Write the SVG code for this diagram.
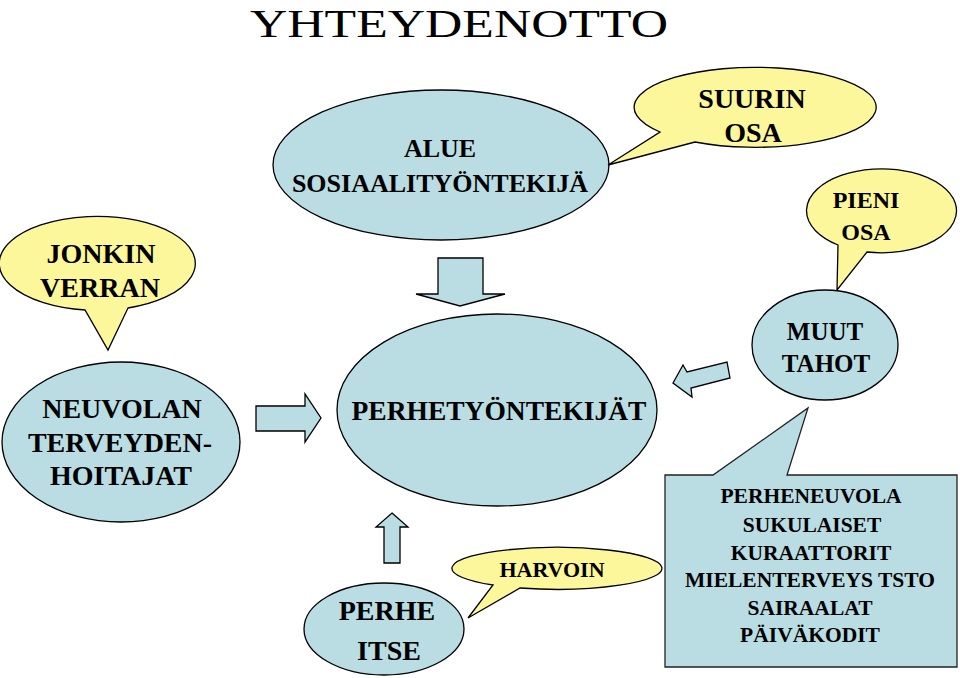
<svg xmlns="http://www.w3.org/2000/svg" width="960" height="678" viewBox="0 0 960 678">
<style>
.b{fill:#b9dde3;stroke:#000;stroke-width:1.3}
.y{fill:#fdf79c;stroke:#000;stroke-width:1.3}
</style>
<rect width="960" height="678" fill="#fff"/>
<g font-family="Liberation Serif" font-weight="bold" text-anchor="middle" fill="#000">
<text x="459" y="37" font-size="40" font-weight="normal" textLength="418" lengthAdjust="spacingAndGlyphs">YHTEYDENOTTO</text>

<g id="alue">
<ellipse class="b" cx="441" cy="165" rx="168" ry="75"/>
<text x="440" y="157" font-size="26">ALUE</text>
<text x="440" y="192" font-size="26">SOSIAALITYÖNTEKIJÄ</text>
</g>

<g id="suurin">
<path class="y" d="M660,132 A121,40 0 1 1 695,142 L608,165 Z"/>
<text x="752" y="108" font-size="28">SUURIN</text>
<text x="753" y="142" font-size="28">OSA</text>
</g>

<g id="pieni">
<path class="y" d="M838,245 A75,42 0 1 1 867,252 L837,290 Z"/>
<text x="866" y="208" font-size="24">PIENI</text>
<text x="866" y="240" font-size="24">OSA</text>
</g>

<g id="muut">
<ellipse class="b" cx="825" cy="345" rx="73" ry="55"/>
<text x="825" y="340" font-size="25">MUUT</text>
<text x="826" y="372" font-size="25">TAHOT</text>
</g>

<g id="jonkin">
<path class="y" d="M85,310 A98,47 0 1 1 128,308 L108,350 Z"/>
<text x="101" y="263" font-size="28">JONKIN</text>
<text x="100" y="297" font-size="28">VERRAN</text>
</g>

<g id="neuvolan">
<ellipse class="b" cx="121" cy="442" rx="119" ry="80"/>
<text x="122" y="418" font-size="28">NEUVOLAN</text>
<text x="120" y="452" font-size="28">TERVEYDEN-</text>
<text x="121" y="485" font-size="28">HOITAJAT</text>
</g>

<g id="perhetyontekijat">
<ellipse class="b" cx="497" cy="410" rx="160" ry="96"/>
<text x="499" y="420" font-size="27.5">PERHETYÖNTEKIJÄT</text>
</g>

<g id="perhe">
<ellipse class="b" cx="384" cy="629" rx="80" ry="46"/>
<text x="387" y="620" font-size="28">PERHE</text>
<text x="389" y="660" font-size="28">ITSE</text>
</g>

<g id="harvoin">
<path class="y" d="M493,585 A105,21 0 1 1 520,588 L468,618 Z"/>
<text x="552" y="577" font-size="22">HARVOIN</text>
</g>

<g id="muut-lista">
<path class="b" d="M665,475 L713,475 L808,408 L787,475 L957,475 L957,667 L665,667 Z" style="stroke:#222"/>
<text x="811" y="503" font-size="21.5">PERHENEUVOLA</text>
<text x="812" y="532" font-size="21.5">SUKULAISET</text>
<text x="811" y="560" font-size="21.5">KURAATTORIT</text>
<text x="810" y="587" font-size="21.5">MIELENTERVEYS TSTO</text>
<text x="810" y="615" font-size="21.5">SAIRAALAT</text>
<text x="810" y="642" font-size="21.5">PÄIVÄKODIT</text>
</g>
</g>

<g id="connectors">
<polygon class="b" points="438,258 483,258 483,294 505,294 460,306 416,294 438,294"/>
<polygon class="b" points="256,406 305,406 305,394 321,418 305,442 305,431 256,431"/>
<polygon class="b" points="673,383 683,365 687,372 727,362 730,378 691,388 692,397"/>
<polygon class="b" points="392,513 408,527 400,527 400,563 384,563 384,527 376,527"/>
</g>
</svg>
